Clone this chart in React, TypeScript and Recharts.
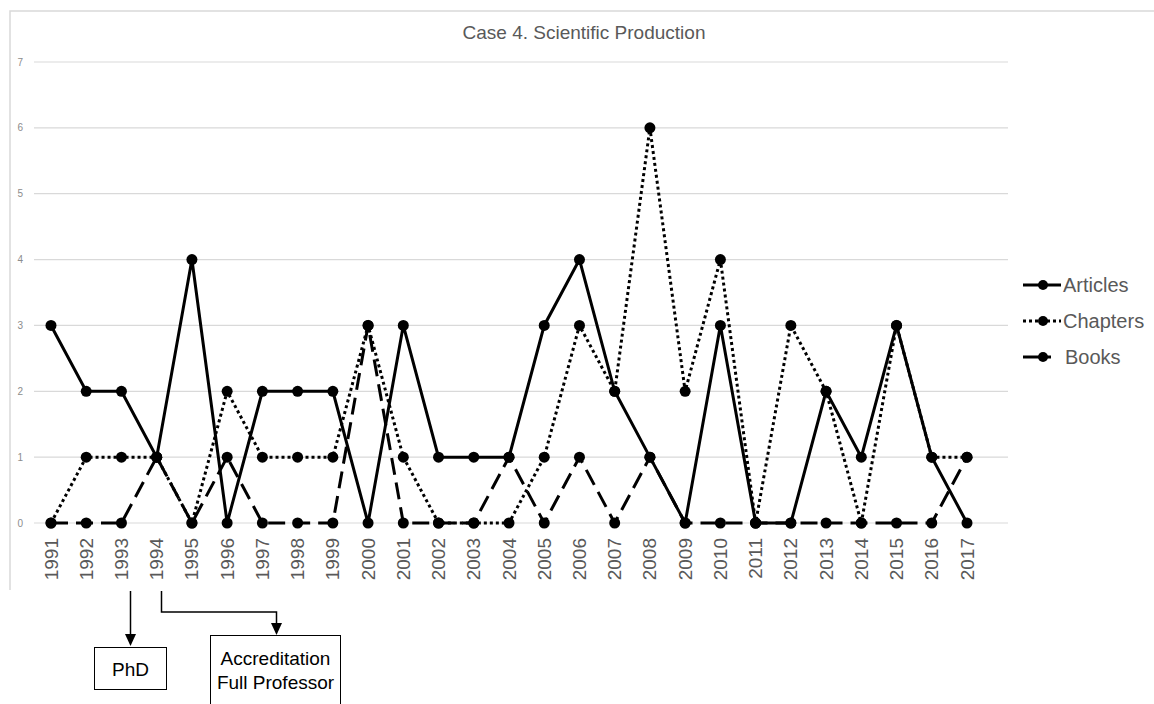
import React from 'react';
import { LineChart, Line, XAxis, YAxis, CartesianGrid } from 'recharts';

const years = [
  '1991', '1992', '1993', '1994', '1995', '1996', '1997', '1998', '1999', '2000',
  '2001', '2002', '2003', '2004', '2005', '2006', '2007', '2008', '2009', '2010',
  '2011', '2012', '2013', '2014', '2015', '2016', '2017',
];
const articles = [3, 2, 2, 1, 4, 0, 2, 2, 2, 0, 3, 1, 1, 1, 3, 4, 2, 1, 0, 3, 0, 0, 2, 1, 3, 1, 0];
const chapters = [0, 1, 1, 1, 0, 2, 1, 1, 1, 3, 1, 0, 0, 0, 1, 3, 2, 6, 2, 4, 0, 3, 2, 0, 3, 1, 1];
const books = [0, 0, 0, 1, 0, 1, 0, 0, 0, 3, 0, 0, 0, 1, 0, 1, 0, 1, 0, 0, 0, 0, 0, 0, 0, 0, 1];
const yTicks = [0, 1, 2, 3, 4, 5, 6, 7];

const data = years.map((year, i) => ({
  year,
  articles: articles[i],
  chapters: chapters[i],
  books: books[i],
}));

const FONT = '"Liberation Sans", Arial, sans-serif';
const TEXT = '#595959';

const series = [
  { key: 'articles', name: 'Articles', dash: undefined },
  { key: 'chapters', name: 'Chapters', dash: '3 3' },
  { key: 'books', name: 'Books', dash: '17 8' },
];

const YearTick = ({ x, y, payload }: any) => (
  <text
    x={x}
    y={y}
    transform={`rotate(-90, ${x}, ${y})`}
    textAnchor="end"
    dominantBaseline="central"
    fontSize={19}
    fontFamily={FONT}
    fill={TEXT}
  >
    {payload.value}
  </text>
);

const LegendBox = () => (
  <svg width={140} height={110} style={{ position: 'absolute', left: 1020, top: 265 }}>
    {series.map((s, i) => {
      const cy = 20 + i * 36;
      return (
        <g key={s.key}>
          <line
            x1={3}
            x2={s.key === 'books' ? 31 : 41}
            y1={cy}
            y2={cy}
            stroke="#000"
            strokeWidth={3}
            strokeDasharray={s.key === 'chapters' ? '3 3' : undefined}
          />
          <circle cx={23} cy={cy} r={5} fill="#000" />
          <text x={s.key === 'books' ? 45 : 43} y={cy} dominantBaseline="central" fontSize={20} fontFamily={FONT} fill={TEXT}>
            {s.name}
          </text>
        </g>
      );
    })}
  </svg>
);

const Annotations = () => (
  <svg width={1154} height={704} style={{ position: 'absolute', left: 0, top: 0, pointerEvents: 'none' }}>
    <defs>
      <marker id="arr" markerWidth={10} markerHeight={10} refX={5} refY={9} orient="auto-start-reverse" markerUnits="userSpaceOnUse">
        <path d="M0,0 L10,0 L5,10 z" fill="#000" transform="rotate(0)" />
      </marker>
    </defs>
    {/* chart frame */}
    <path d="M10,590 L10,11 L1154,11" fill="none" stroke="#d9d9d9" strokeWidth={1.5} />
    {/* PhD arrow */}
    <line x1={130.5} y1={591} x2={130.5} y2={636} stroke="#000" strokeWidth={1.5} />
    <path d="M125,634 L136,634 L130.5,646 z" fill="#000" />
    <rect x={94.5} y={647.5} width={72} height={42} fill="#fff" stroke="#000" strokeWidth={1} />
    <text x={130.5} y={669} textAnchor="middle" dominantBaseline="central" fontSize={19} fontFamily={FONT} fill="#000">
      PhD
    </text>
    {/* Accreditation arrow */}
    <path d="M161.5,591 L161.5,612 L276.5,612 L276.5,624" fill="none" stroke="#000" strokeWidth={1.5} />
    <path d="M271,623 L282,623 L276.5,635 z" fill="#000" />
    <rect x={210.5} y={635.5} width={130} height={80} fill="#fff" stroke="#000" strokeWidth={1} />
    <text x={275.5} y={658} textAnchor="middle" dominantBaseline="central" fontSize={19} fontFamily={FONT} fill="#000">
      Accreditation
    </text>
    <text x={275.5} y={682} textAnchor="middle" dominantBaseline="central" fontSize={19} fontFamily={FONT} fill="#000">
      Full Professor
    </text>
  </svg>
);

export default function App() {
  return (
    <div style={{ position: 'absolute', left: 0, top: 0, width: 1154, height: 704, background: '#fff' }}>
      <LineChart
        width={1154}
        height={704}
        data={data}
        margin={{ top: 62, right: 146, left: 0, bottom: 121 }}
      >
        <CartesianGrid vertical={false} stroke="#d9d9d9" strokeWidth={1.2} />
        <XAxis
          dataKey="year"
          height={60}
          interval={0}
          padding={{ left: 17, right: 41 }}
          axisLine={false}
          tickLine={false}
          tickSize={0}
          tickMargin={15}
          tick={<YearTick />}
        />
        <YAxis
          width={34}
          domain={[0, 7]}
          ticks={yTicks}
          axisLine={false}
          tickLine={false}
          tickSize={0}
          tickMargin={11}
          tick={{ fontSize: 10, fill: '#8c8c8c', fontFamily: FONT }}
        />
        {series.map((s) => (
          <Line
            key={s.key}
            dataKey={s.key}
            name={s.name}
            type="linear"
            stroke="#000"
            strokeWidth={3}
            strokeDasharray={s.dash}
            dot={{ r: 5.5, fill: '#000', stroke: '#000', strokeWidth: 0, strokeDasharray: '' }}
            activeDot={false}
            isAnimationActive={false}
          />
        ))}
      </LineChart>
      <div
        style={{
          position: 'absolute',
          left: 384,
          width: 400,
          top: 22,
          textAlign: 'center',
          fontSize: 19,
          fontFamily: FONT,
          color: TEXT,
        }}
      >
        Case 4. Scientific Production
      </div>
      <LegendBox />
      <Annotations />
    </div>
  );
}
